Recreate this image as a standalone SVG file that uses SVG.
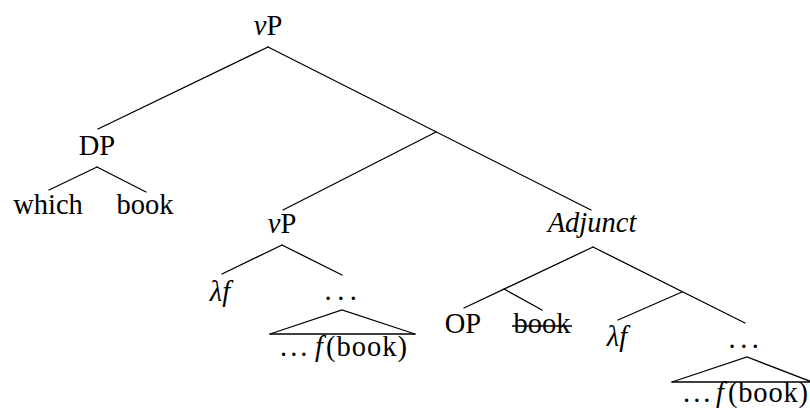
<svg xmlns="http://www.w3.org/2000/svg" width="810" height="414" viewBox="0 0 810 414">
<style>
text{font-family:'Liberation Serif','Times New Roman',serif;font-size:28.5px;fill:#000}
.c{text-anchor:middle}
.i{font-style:italic}
.e line,.e polyline{stroke:#000;stroke-width:1.3;fill:none;stroke-linecap:round}
.base{stroke:#333;stroke-width:2}
</style>
<rect width="810" height="414" fill="#fff"/>
<g id="connectors" class="e">
<line x1="268" y1="47" x2="98" y2="129"/>
<line x1="268" y1="47" x2="591" y2="210"/>
<line x1="436" y1="132" x2="283" y2="210"/>
<line x1="97" y1="167" x2="49" y2="190"/>
<line x1="97" y1="167" x2="146" y2="192"/>
<line x1="282" y1="245" x2="222" y2="274"/>
<line x1="282" y1="245" x2="342" y2="275"/>
<polyline points="270,334 342,310 415,334"/>
<line class="base" x1="270" y1="334" x2="415" y2="334"/>
<line x1="593" y1="247" x2="464" y2="308"/>
<line x1="593" y1="247" x2="745" y2="323"/>
<line x1="504" y1="289" x2="542" y2="310"/>
<line x1="682" y1="292" x2="618" y2="320"/>
<polyline points="672,382 747,357 812,382"/>
<line class="base" x1="672" y1="382" x2="812" y2="382"/>
</g>
<g id="n-vP-top"><text class="c" x="268" y="35"><tspan class="i">v</tspan>P</text></g>
<g id="n-DP"><text class="c" x="97" y="155">DP</text></g>
<g id="n-which"><text class="c" x="48" y="214">which</text></g>
<g id="n-book"><text class="c" x="145" y="214">book</text></g>
<g id="n-vP-mid"><text class="c" x="282" y="233"><tspan class="i">v</tspan>P</text></g>
<g id="n-lf-mid"><text class="c i" x="220" y="301">λf</text></g>
<g id="n-dots-mid"><text x="324.5" y="300" letter-spacing="5.5">...</text></g>
<g id="n-fbook-mid"><text x="280" y="356"><tspan letter-spacing="3">...</tspan><tspan class="i" x="315">f</tspan><tspan x="326" letter-spacing="1">(book)</tspan></text></g>
<g id="n-Adjunct"><text class="c i" x="592" y="232">Adjunct</text></g>
<g id="n-OP"><text class="c" x="463" y="333">OP</text></g>
<g id="n-book-struck"><text class="c" x="542" y="333">book</text><line x1="512" y1="326" x2="572" y2="326" stroke="#000" stroke-width="1.6"/></g>
<g id="n-lf-right"><text class="c i" x="617" y="346">λf</text></g>
<g id="n-dots-right"><text x="728.5" y="348" letter-spacing="4.5">...</text></g>
<g id="n-fbook-right"><text x="683" y="402"><tspan letter-spacing="3">...</tspan><tspan class="i" x="716">f</tspan><tspan x="728" letter-spacing="0.8">(book)</tspan></text></g>
</svg>
